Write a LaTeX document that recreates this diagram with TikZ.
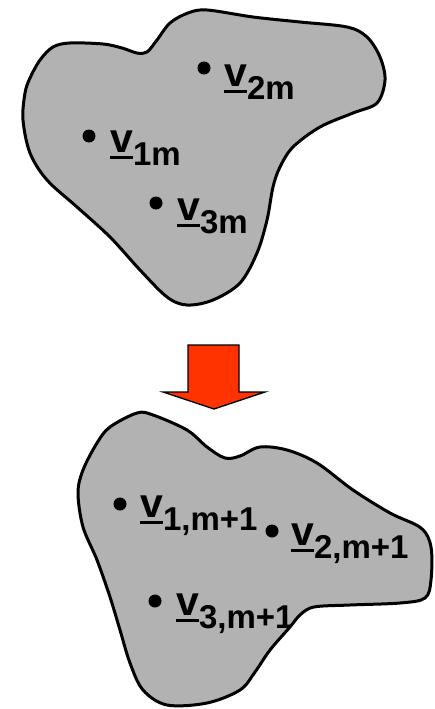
\documentclass[tikz,border=0pt]{standalone}
\usepackage{fontspec}
\setmainfont{Liberation Sans}
\tikzset{
  blob/.style={draw=black, line width=3pt, fill=blobgray},
  dotmark/.style={circle, fill=black, inner sep=0pt, minimum size=13pt},
  vlabel/.style={anchor=base west, inner sep=0pt, font=\bfseries},
  bigarrow/.style={draw=black, line width=1.3pt, fill=arrowred, line join=miter}
}
\definecolor{blobgray}{HTML}{B2B2B2}
\definecolor{arrowred}{HTML}{FF3300}
\newcommand\vsub[1]{\setbox0\hbox{\fontsize{41}{41}\selectfont v}%
  \rlap{\rule[-6.5pt]{\wd0}{2.6pt}}\box0\raisebox{-13pt}{\fontsize{33}{33}\selectfont #1}}
\def\blobA{plot[smooth cycle, tension=0.55] coordinates {(40,60) (53,47) (70,43) (103,44) (122,48) (137,53) (147,52) (157,40) (170,23) (188,13) (207,10) (253,17) (300,22) (347,27) (367,37) (380,57) (385,80) (377,103) (353,113) (320,127) (293,147) (280,167) (273,187) (267,220) (257,253) (240,283) (213,300) (187,305) (167,297) (140,270) (110,237) (77,207) (47,180) (30,153) (23,120) (25,93) (30,78)}}
\def\blobB{plot[smooth cycle, tension=0.55] coordinates {(110,427) (137,413) (153,415) (187,430) (207,447) (225,458) (240,456) (260,447) (287,450) (317,463) (353,490) (390,513) (421,528) (431,547) (431,580) (425,598) (400,603) (350,605) (314,607) (300,615) (290,627) (270,650) (255,672) (240,690) (207,703) (167,705) (143,690) (130,663) (120,630) (110,597) (97,560) (83,527) (78,493) (83,470) (97,443)}}
\begin{document}
\begin{tikzpicture}[x=1pt, y=-1pt]
\useasboundingbox (0,0) rectangle (434,709);
% top blob
\path[fill=blobgray] \blobA;
\node[dotmark] (d2m) at (204,68) {};
\node[dotmark] (d1m) at (89,136) {};
\node[dotmark] (d3m) at (156,203) {};
\node[vlabel] (l2m) at (224,86) {\vsub{2m}};
\node[vlabel] (l1m) at (110,152) {\vsub{1m}};
\node[vlabel] (l3m) at (177,220) {\vsub{3m}};
\draw[blob, fill=none] \blobA;
% arrow
\draw[bigarrow] (188,345) -- (239,345) -- (239,392) -- (265,392) -- (214,409) -- (163,392) -- (188,392) -- cycle;
% bottom blob
\path[fill=blobgray] \blobB;
\begin{scope}
\clip \blobB;
\node[dotmark] (d1) at (120,504) {};
\node[dotmark] (d2) at (272,531) {};
\node[dotmark] (d3) at (155,601) {};
\node[vlabel] (l1) at (140,517) {\vsub{1,m+1}};
\node[vlabel] (l2) at (291,545) {\vsub{2,m+1}};
\node[vlabel] (l3) at (176,615) {\vsub{3,m+1}};
\end{scope}
\draw[blob, fill=none] \blobB;
\end{tikzpicture}
\end{document}
